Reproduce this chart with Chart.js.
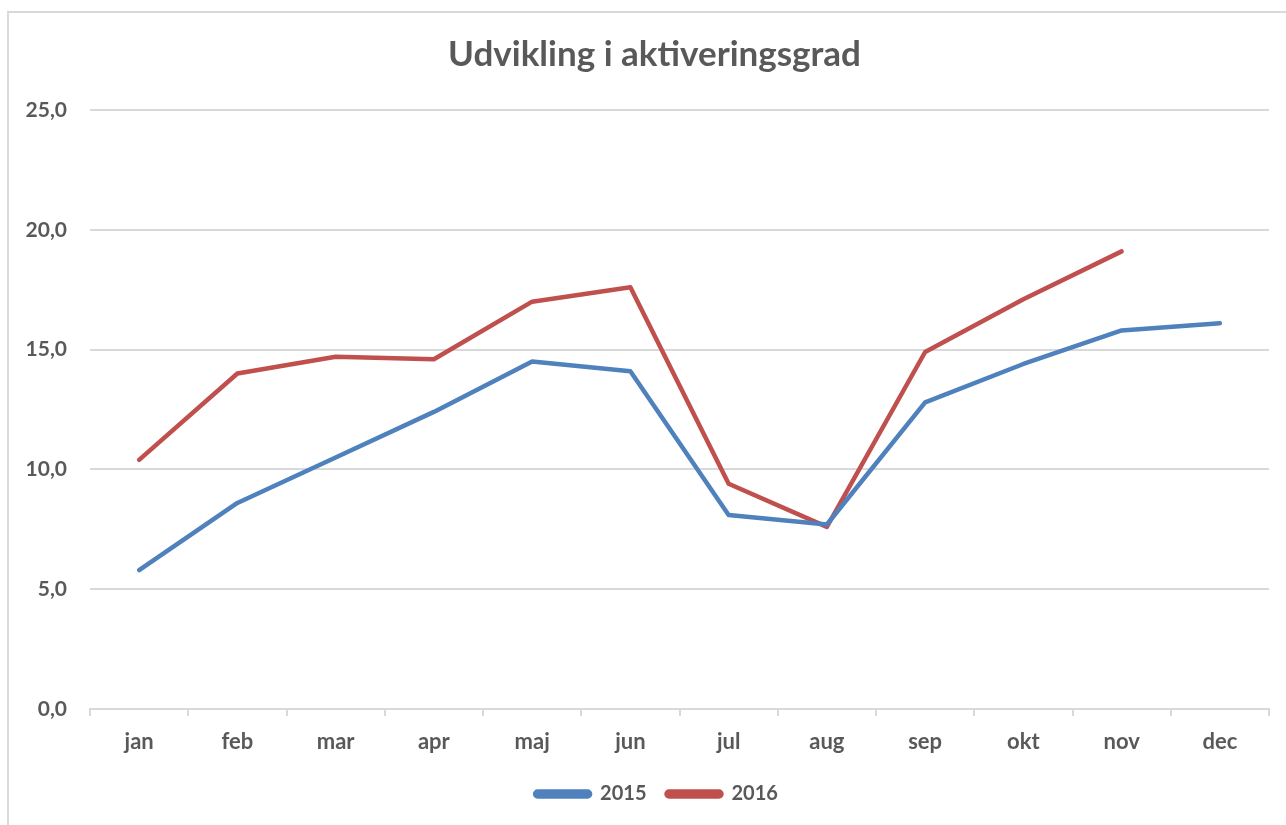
<!DOCTYPE html>
<html>
<head>
<meta charset="utf-8">
<script src="https://cdn.jsdelivr.net/npm/chart.js@4/dist/chart.umd.min.js"></script>
<style>
  html, body { margin: 0; padding: 0; background: #fff; }
  #ramme { position: absolute; left: 7px; top: 11px; width: 1300px; height: 830px;
           border-left: 2px solid #d9d9d9; border-top: 2px solid #d9d9d9; }
  #grafico { position: absolute; left: 0; top: 0; }
</style>
</head>
<body>
<div id="ramme"></div>
<canvas id="grafico" width="1286" height="825"></canvas>
<script>
// Data
const maaneder = ['jan', 'feb', 'mar', 'apr', 'maj', 'jun', 'jul', 'aug', 'sep', 'okt', 'nov', 'dec'];
const data2015 = [5.8, 8.6, 10.5, 12.4, 14.5, 14.1, 8.1, 7.7, 12.8, 14.4, 15.8, 16.1];
const data2016 = [10.4, 14.0, 14.7, 14.6, 17.0, 17.6, 9.4, 7.6, 14.9, 17.1, 19.1, null];
const yMin = 0;
const yMax = 25;
const yStep = 5;

const tekstFarve = '#595959';
const gitterFarve = '#d9d9d9';
const skrift = 'Lato, "Open Sans", sans-serif';

// Flytter legende og titel lidt mod højre, som i originalen
const flytTekst = {
    id: 'flytTekst',
    afterLayout(chart) {
        if (chart.legend) chart.legend.left += 44;
        if (chart.titleBlock) chart.titleBlock.left += 40;
    }
};

const ctx = document.getElementById('grafico').getContext('2d');
const grafico = new Chart(ctx, {
    type: 'line',
    data: {
        labels: maaneder,
        datasets: [
            {
                label: '2015',
                data: data2015,
                borderColor: '#4f81bd',
                backgroundColor: '#4f81bd',
                borderWidth: 4.5,
                borderCapStyle: 'round',
                borderJoinStyle: 'round',
                pointRadius: 0,
                tension: 0
            },
            {
                label: '2016',
                data: data2016,
                borderColor: '#c0504d',
                backgroundColor: '#c0504d',
                borderWidth: 4.5,
                borderCapStyle: 'round',
                borderJoinStyle: 'round',
                pointRadius: 0,
                tension: 0,
                spanGaps: false
            }
        ]
    },
    options: {
        responsive: false,
        animation: false,
        layout: { padding: { left: 0, right: 17, top: 0, bottom: 11 } },
        plugins: {
            title: {
                display: true,
                text: 'Udvikling i aktiveringsgrad',
                color: tekstFarve,
                font: { family: skrift, size: 35, weight: 'bold' },
                padding: { top: 34, bottom: 34 }
            },
            legend: {
                position: 'bottom',
                labels: {
                    color: tekstFarve,
                    font: { family: skrift, size: 20, weight: 'bold' },
                    boxWidth: 55,
                    boxHeight: 5,
                    useBorderRadius: true,
                    borderRadius: 2.5,
                    padding: 20
                }
            },
            tooltip: { enabled: false }
        },
        scales: {
            x: {
                offset: true,
                grid: { offset: true, drawOnChartArea: false, color: gitterFarve, tickLength: 7, lineWidth: 2 },
                border: { color: gitterFarve, width: 2 },
                ticks: { color: tekstFarve, font: { family: skrift, size: 22, weight: 'bold' }, padding: 13 },
                afterFit: (scale) => { scale.height = 55; }
            },
            y: {
                min: yMin,
                max: yMax,
                grid: { color: gitterFarve, lineWidth: 2, drawTicks: false },
                border: { display: false },
                ticks: {
                    stepSize: yStep,
                    color: tekstFarve,
                    font: { family: skrift, size: 21, weight: 'bold' },
                    padding: 23,
                    callback: (v) => v.toFixed(1).replace('.', ',')
                },
                afterFit: (scale) => { scale.width = 90; }
            }
        }
    },
    plugins: [flytTekst]
});
</script>
</body>
</html>
